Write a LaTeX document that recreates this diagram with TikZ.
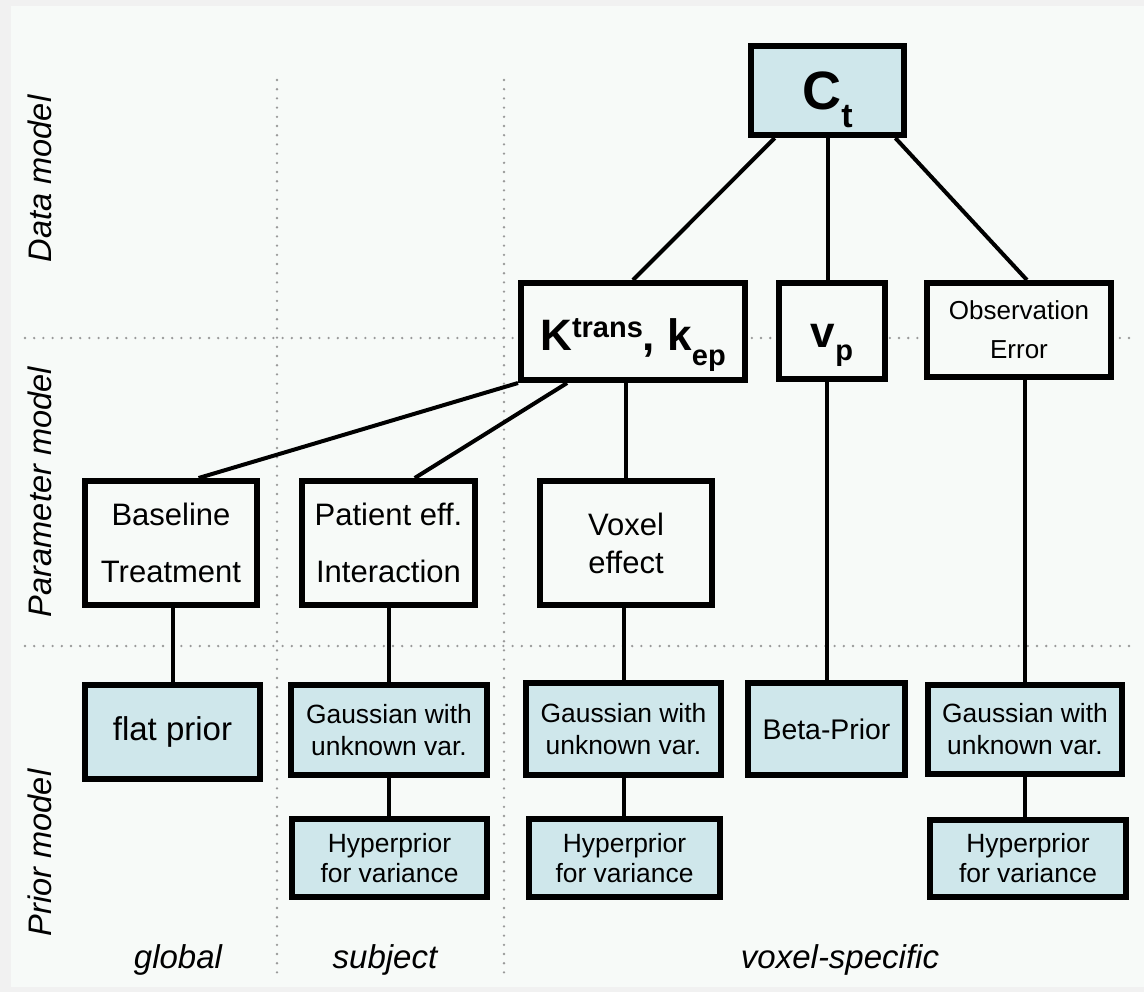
\documentclass[tikz,border=0pt]{standalone}
\usepackage{fontspec}
\setmainfont{Liberation Sans}
\usetikzlibrary{positioning, backgrounds}

\definecolor{pagegray}{HTML}{F1F1F1}
\definecolor{panel}{HTML}{F7FAF8}
\definecolor{priorblue}{HTML}{CFE7EB}

%% text block lowered from the node centre, without size
\newcommand{\sinkbox}[2]{\raisebox{-#1}[0pt][0pt]{#2}}

\begin{document}
\begin{tikzpicture}[
  x=0.5pt, y=-0.5pt,
  %% Node styles
  model/.style={
    draw, line width=3pt, fill=panel,
    inner sep=0pt, align=center
  },
  prior/.style={model, fill=priorblue},
  big/.style={font=\fontsize{15.5}{28.5}\selectfont},
  small/.style={font=\fontsize{13.2}{16}\selectfont},
  link/.style={line width=2pt},
  divider/.style={
    draw=gray!80, line width=1.3pt, line cap=round,
    dash pattern=on 0pt off 4.6pt
  },
  level/.style={font=\fontsize{16.3}{18}\selectfont\itshape, rotate=90},
  tier/.style={font=\fontsize{16.5}{18}\selectfont\itshape, anchor=base},
]

%% ── BACKGROUND ────────────────────────────────────────────────────────────
\fill[pagegray] (0,0) rectangle (1144,992);
\fill[panel] (11,6) rectangle (1144,987);

%% ── DIVIDERS ──────────────────────────────────────────────────────────────
\coordinate (h1a) at (25,338);  \coordinate (h1b) at (1130,338);
\coordinate (h2a) at (25,646);  \coordinate (h2b) at (1130,646);
\coordinate (v1a) at (277,80);  \coordinate (v1b) at (277,975);
\coordinate (v2a) at (504,80);  \coordinate (v2b) at (504,975);

\draw[divider] (h1a) -- (h1b);
\draw[divider] (h2a) -- (h2b);
\draw[divider] (v1a) -- (v1b);
\draw[divider] (v2a) -- (v2b);

%% ── DATA MODEL ────────────────────────────────────────────────────────────
\node[prior, minimum width=76.5pt, minimum height=44.5pt] (ct) at (827.5,90.5)
  {\sinkbox{9.5pt}{\fontsize{27}{28}\selectfont\bfseries
   C\raisebox{-9pt}{\fontsize{17}{18}\selectfont t}}};

%% ── PARAMETER MODEL, TOP ROW ──────────────────────────────────────────────
\node[model, minimum width=112pt, minimum height=48.5pt] (ktr) at (633,331.5)
  {\sinkbox{9.3pt}{\fontsize{22}{24}\selectfont\bfseries
   K\raisebox{6.5pt}{\fontsize{14.5}{15}\selectfont trans}, %
   k\raisebox{-7.5pt}{\fontsize{14.5}{15}\selectfont ep}}};
\node[model, minimum width=53pt, minimum height=48pt] (vp) at (832,331)
  {\sinkbox{8pt}{\fontsize{22}{24}\selectfont\bfseries
   v\raisebox{-6.5pt}{\fontsize{14.5}{15}\selectfont p}}};
\node[model, minimum width=92pt, minimum height=47pt,
      font=\fontsize{13}{19.5}\selectfont] (obs) at (1019,330)
  {Observation\\Error};

%% Data → parameter edges
\draw[link] (ct.222) -- (ktr.north);
\draw[link] (ct.south) -- (ct.south |- vp.north);
\draw[link] (ct.-35) -- (obs.81);

%% ── PARAMETER MODEL, EFFECTS ──────────────────────────────────────────────
\node[model, big, minimum width=86pt, minimum height=62pt] (base) at (171,543)
  {Baseline\\Treatment};
\node[model, big, minimum width=86.5pt, minimum height=62pt] (pat) at (388.5,543)
  {Patient eff.\\Interaction};
\node[model, minimum width=86pt, minimum height=62pt,
      font=\fontsize{15.5}{19}\selectfont] (vox) at (626,543)
  {Voxel\\effect};

\draw[link] (ktr.south west) -- (base.67);
\draw[link] (ktr.218) -- (pat.68);
\draw[link] (vox.north |- ktr.south) -- (vox.north);

%% ── PRIOR MODEL ───────────────────────────────────────────────────────────
\node[prior, minimum width=87.5pt, minimum height=47pt,
      font=\fontsize{16.5}{18}\selectfont] (flat) at (172.5,732) {flat prior};
\node[prior, small, minimum width=98pt, minimum height=45pt] (gs) at (389,730)
  {Gaussian with\\unknown var.};
\node[prior, small, minimum width=97.5pt, minimum height=46pt] (gv) at (623.5,729)
  {Gaussian with\\unknown var.};
\node[prior, minimum width=78.5pt, minimum height=46pt,
      font=\fontsize{14.2}{16}\selectfont] (beta) at (826.5,729) {Beta-Prior};
\node[prior, small, minimum width=97pt, minimum height=44.5pt] (gr) at (1025,729.5)
  {Gaussian with\\unknown var.};

\node[prior, font=\fontsize{13.2}{15}\selectfont,
      minimum width=97.5pt, minimum height=39pt] (hs) at (389.5,858)
  {Hyperprior\\for variance};
\node[prior, font=\fontsize{13.2}{15}\selectfont,
      minimum width=95.5pt, minimum height=39pt] (hv) at (624.5,858)
  {Hyperprior\\for variance};
\node[prior, font=\fontsize{13.2}{15}\selectfont,
      minimum width=98pt, minimum height=38.5pt] (hr) at (1028,858.5)
  {Hyperprior\\for variance};

%% Parameter → prior edges
\draw[link] (flat.north |- base.south) -- (flat.north);
\draw[link] (gs.north |- pat.south) -- (gs.north);
\draw[link] (gv.north |- vox.south) -- (gv.north);
\draw[link] (beta.north |- vp.south) -- (beta.north);
\draw[link] (gr.north |- obs.south) -- (gr.north);

\foreach \up/\dn in {gs/hs, gv/hv, gr/hr}
  \draw[link] (\up.south) -- (\up.south |- \dn.north);

%% ── LABELS ────────────────────────────────────────────────────────────────
\node[level] (datalbl)  at (40,179) {Data model};
\node[level] (paramlbl) at (40,492) {Parameter model};
\node[level] (priorlbl) at (40,853) {Prior model};

\node[tier] (global)  at (178,968) {global};
\node[tier] (subject) at (385,968) {subject};
\node[tier] (voxel)   at (840,968) {voxel-specific};

\end{tikzpicture}
\end{document}
